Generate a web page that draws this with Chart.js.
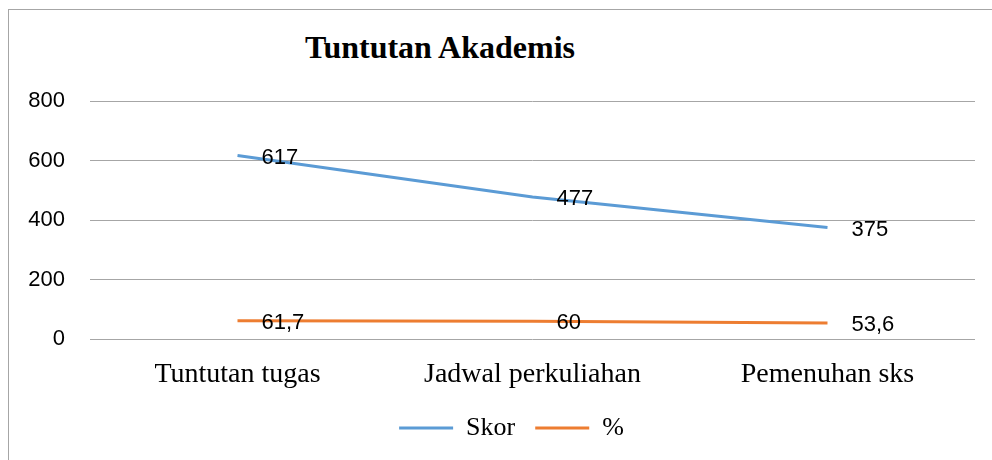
<!DOCTYPE html>
<html lang="id">
<head>
    <meta charset="UTF-8">
    <title>Tuntutan Akademis</title>
    <script src="https://cdn.jsdelivr.net/npm/chart.js"></script>
    <style>
        html, body { margin: 0; padding: 0; background: #fff; overflow: hidden; }
        .frame {
            position: absolute; left: 8px; top: 9px; width: 1200px; height: 800px;
            border: 1px solid #a6a6a6;
        }
        .judul {
            position: absolute; left: 240px; width: 400px; top: 29px;
            text-align: center; font: bold 32px "Liberation Serif", serif; color: #000;
        }
        .wrap { position: absolute; left: 0; top: 0; width: 992px; height: 460px; }
    </style>
</head>
<body>
    <div class="frame"></div>
    <div class="judul">Tuntutan Akademis</div>
    <div class="wrap"><canvas id="grafik"></canvas></div>

    <script>
        const kategori = ["Tuntutan tugas", "Jadwal perkuliahan", "Pemenuhan sks"];
        const skor = [617, 477, 375];
        const persen = [61.7, 60, 53.6];
        const labelPersen = ["61,7", "60", "53,6"];
        const tickY = [0, 200, 400, 600, 800];

        const sans = "'Liberation Sans', sans-serif";
        const serif = "'Liberation Serif', serif";

        // label angka di kanan tiap titik
        const labelTitik = {
            id: 'labelTitik',
            afterLayout(chart) {
                // legenda di gambar asli agak ke kanan
                chart.legend.left += 24;
                chart.legend.right += 24;
            },
            afterDatasetsDraw(chart) {
                const ctx = chart.ctx;
                ctx.save();
                ctx.font = "22px " + sans;
                ctx.fillStyle = "#000";
                ctx.textAlign = "left";
                ctx.textBaseline = "middle";
                chart.data.datasets.forEach((ds, i) => {
                    chart.getDatasetMeta(i).data.forEach((pt, j) => {
                        const teks = ds.teks ? ds.teks[j] : String(ds.data[j]);
                        ctx.fillText(teks, pt.x + 24, pt.y + 2);
                    });
                });
                ctx.restore();
            }
        };

        new Chart(document.getElementById("grafik"), {
            type: 'line',
            data: {
                labels: kategori,
                datasets: [
                    { label: 'Skor', data: skor, borderColor: '#5b9bd5', backgroundColor: '#5b9bd5', borderWidth: 3, pointRadius: 0, tension: 0 },
                    { label: '%', data: persen, teks: labelPersen, borderColor: '#ed7d31', backgroundColor: '#ed7d31', borderWidth: 3, pointRadius: 0, tension: 0 }
                ]
            },
            options: {
                responsive: true,
                maintainAspectRatio: false,
                animation: false,
                layout: { padding: { left: 0, right: 17, top: 101, bottom: 9 } },
                scales: {
                    x: {
                        offset: true,
                        grid: { display: false },
                        border: { display: false },
                        ticks: { color: '#000', font: { family: serif, size: 28 }, padding: 11 },
                        afterFit: s => { s.height = 56; }
                    },
                    y: {
                        min: 0, max: 800,
                        afterBuildTicks: s => { s.ticks = tickY.map(v => ({ value: v })); },
                        grid: { color: '#a6a6a6', lineWidth: 1, drawTicks: false },
                        border: { display: false },
                        ticks: { color: '#000', font: { family: sans, size: 22 }, padding: 25 },
                        afterFit: s => { s.width = 90; }
                    }
                },
                plugins: {
                    legend: {
                        position: 'bottom',
                        labels: {
                            usePointStyle: true, pointStyle: 'line', pointStyleWidth: 54,
                            color: '#000', font: { family: serif, size: 26 }, padding: 20
                        }
                    },
                    tooltip: { enabled: false }
                }
            },
            plugins: [labelTitik]
        });
    </script>
</body>
</html>
